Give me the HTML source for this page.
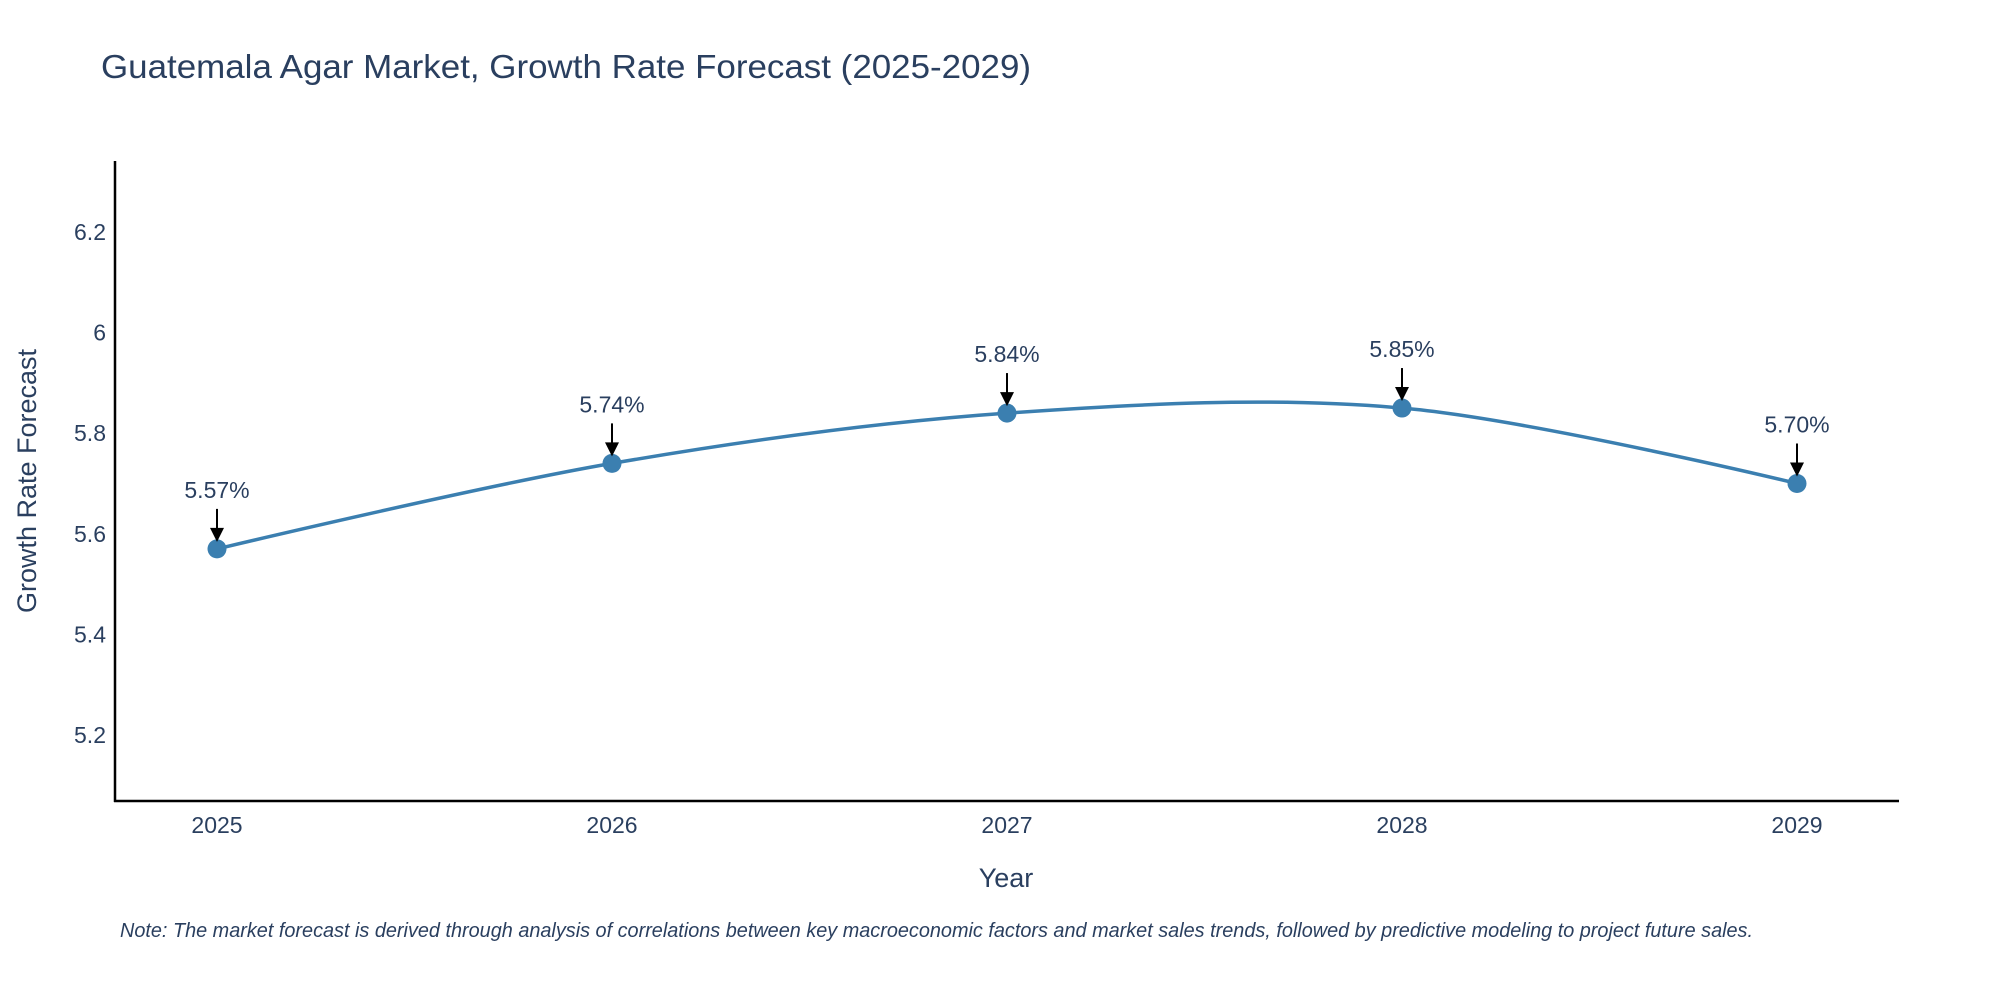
<!DOCTYPE html>
<html><head><meta charset="utf-8"><style>
body{margin:0;background:#fff;}
svg{display:block;font-family:"Liberation Sans",sans-serif;}
</style></head><body>
<svg id="chart" width="2000" height="1000">
<text x="101" y="78" font-size="33" fill="#2a3f5f" textLength="930" lengthAdjust="spacingAndGlyphs">Guatemala Agar Market, Growth Rate Forecast (2025-2029)</text>
<g id="yticks"></g>
<g id="xticks"></g>
<line x1="115" y1="161" x2="115" y2="802" stroke="#000" stroke-width="2.5"/>
<line x1="114" y1="801" x2="1899" y2="801" stroke="#000" stroke-width="2.5"/>
<path id="line" fill="none" stroke="#3b7fb0" stroke-width="3.5"/>
<g id="points"></g>
<text x="1006" y="887" font-size="27" fill="#2a3f5f" text-anchor="middle">Year</text>
<text transform="translate(36,481) rotate(-90)" font-size="27" fill="#2a3f5f" text-anchor="middle">Growth Rate Forecast</text>
<text x="120" y="937" font-size="20" font-style="italic" fill="#2a3f5f" textLength="1633" lengthAdjust="spacingAndGlyphs">Note: The market forecast is derived through analysis of correlations between key macroeconomic factors and market sales trends, followed by predictive modeling to project future sales.</text>
</svg>
<script>
const years=[2025,2026,2027,2028,2029];
const values=[5.57,5.74,5.84,5.85,5.70];
const labels=["5.57%","5.74%","5.84%","5.85%","5.70%"];
const yTicks=[5.2,5.4,5.6,5.8,6,6.2];
const NS="http://www.w3.org/2000/svg";
function xs(v){return 217+(v-2025)*(1797-217)/4;}
function ys(v){return 735-(v-5.2)*(735-232)/1.0;}
function mk(t,a,p){const e=document.createElementNS(NS,t);for(const k in a)e.setAttribute(k,a[k]);p.appendChild(e);return e;}
const yt=document.getElementById('yticks');
yTicks.forEach(t=>{const e=mk('text',{x:106,y:ys(t)+8,'font-size':23,fill:'#2a3f5f','text-anchor':'end'},yt);e.textContent=String(t);

});
const xt=document.getElementById('xticks');
years.forEach(t=>{const e=mk('text',{x:xs(t),y:833,'font-size':23,fill:'#2a3f5f','text-anchor':'middle'},xt);e.textContent=String(t);

});
const P=years.map((y,i)=>[xs(y),ys(values[i])]);
let d='M'+P[0][0]+','+P[0][1];
const s=0.33;
for(let i=0;i<P.length-1;i++){
 const p0=P[Math.max(0,i-1)],p1=P[i],p2=P[i+1],p3=P[Math.min(P.length-1,i+2)];
 const c1=[p1[0]+(p2[0]-p0[0])*s/2*(i==0?0:1),p1[1]+(p2[1]-p0[1])*s/2*(i==0?0:1)];
 const c2=[p2[0]-(p3[0]-p1[0])*s/2*(i==P.length-2?0:1),p2[1]-(p3[1]-p1[1])*s/2*(i==P.length-2?0:1)];
 d+=' C'+c1[0]+','+c1[1]+' '+c2[0]+','+c2[1]+' '+p2[0]+','+p2[1];
}
document.getElementById('line').setAttribute('d',d);
const g=document.getElementById('points');
P.forEach((p,i)=>{
 const c=mk('circle',{cx:p[0],cy:p[1],r:9.5,fill:'#3b7fb0'},g);
 
 
 const l=mk('line',{x1:p[0],y1:p[1]-40,x2:p[0],y2:p[1]-20,stroke:'#000','stroke-width':2},g);
 
 
 const h=mk('polygon',{points:(p[0]-7)+','+(p[1]-21)+' '+(p[0]+7)+','+(p[1]-21)+' '+p[0]+','+(p[1]-7)},g);
 
 
 const t=mk('text',{x:p[0],y:p[1]-51,'font-size':23,fill:'#2a3f5f','text-anchor':'middle'},g);
 t.textContent=labels[i];
 
 
});
</script>
</body></html>
